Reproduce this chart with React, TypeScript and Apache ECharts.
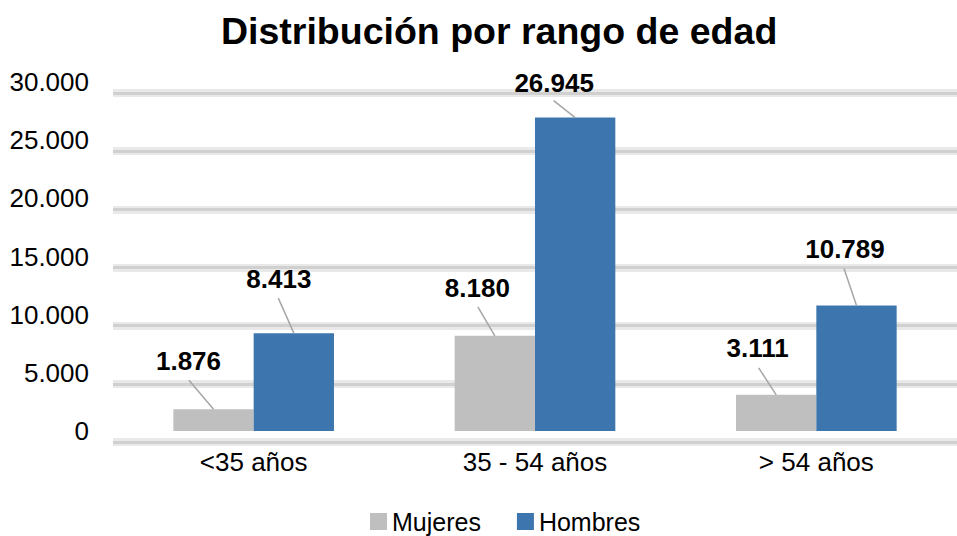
import React, { useEffect, useRef } from "react";
import * as echarts from "echarts";

const categories = ["<35 años", "35 - 54 años", "> 54 años"];
const mujeres = [1876, 8180, 3111];
const hombres = [8413, 26945, 10789];
const yMin = 0;
const yMax = 30000;
const yInterval = 5000;

// label placement (style): [label dx, label dy, line start dx, line start dy] relative to bar top centre
const mujeresLabelOffsets = [
  [-25, -48, -24.5, -29],
  [-17.5, -48, -17, -29],
  [-18.5, -47, -17.5, -27],
];
const hombresLabelOffsets = [
  [-15, -54, -15.5, -35],
  [-21, -35, -21.5, -17],
  [-11.5, -56, -12.5, -37],
];

const GAP = 0.429;
const FONT = '"Liberation Sans", Arial, Helvetica, sans-serif';

const fmt = (v: number) => String(Math.round(v)).replace(/\B(?=(\d{3})+(?!\d))/g, ".");

function makeLabelRenderer(offsets: number[][], side: number) {
  return (params: any, api: any) => {
    const cat = api.value(0);
    const v = api.value(1);
    const pt = api.coord([cat, v]);
    const band = api.size([1, 0])[0];
    const barW = (band * (1 - GAP)) / 2;
    const cx = pt[0] + (side * barW) / 2;
    const top = pt[1];
    const o = offsets[params.dataIndex];
    return {
      type: "group",
      children: [
        {
          type: "line",
          shape: { x1: cx + o[2], y1: top + o[3], x2: cx, y2: top },
          style: { stroke: "#a6a6a6", lineWidth: 1.5 },
        },
        {
          type: "text",
          x: cx + o[0],
          y: top + o[1],
          style: {
            text: fmt(v),
            font: `bold 26px ${FONT}`,
            fill: "#000",
            align: "center",
            textAlign: "center",
            verticalAlign: "middle",
            textVerticalAlign: "middle",
          },
        },
      ],
    };
  };
}

export default function App() {
  const ref = useRef<HTMLDivElement>(null);
  useEffect(() => {
    if (!ref.current) return;
    const chart = echarts.init(ref.current, undefined, { renderer: "svg" });
    const gridLeft = 113;
    const gridWidth = 851;
    const gridTop = 82;
    const gridHeight = 349;
    const hiddenCat = (gridIndex: number) => ({
      type: "category",
      gridIndex,
      data: categories,
      axisLine: { show: false },
      axisTick: { show: false },
      axisLabel: { show: false },
      splitLine: { show: false },
    });
    const gridY = (gridIndex: number, color: string, width: number, z: number) => ({
      type: "value",
      gridIndex,
      z,
      min: yMin,
      max: yMax,
      interval: yInterval,
      axisLine: { show: false },
      axisTick: { show: false },
      axisLabel: { show: false },
      splitLine: { show: true, lineStyle: { color, width } },
    });
    chart.setOption({
      animation: false,
      backgroundColor: "#fff",
      title: {
        text: "Distribución por rango de edad",
        left: 216,
        top: 7,
        textStyle: { fontFamily: FONT, fontWeight: "bold", fontSize: 37.5, color: "#000" },
      },
      legend: {
        data: ["Mujeres", "Hombres"],
        left: 365,
        top: 504,
        icon: "rect",
        itemWidth: 17,
        itemHeight: 17,
        itemGap: 36,
        textStyle: { fontFamily: FONT, fontSize: 25, color: "#000" },
      },
      grid: [
        { left: gridLeft, width: gridWidth, top: gridTop, height: gridHeight },
        { left: gridLeft, width: gridWidth, top: gridTop + 11, height: gridHeight },
        { left: gridLeft, width: gridWidth, top: gridTop + 11, height: gridHeight },
      ],
      xAxis: [
        {
          type: "category",
          gridIndex: 0,
          data: categories,
          axisLine: { show: false },
          axisTick: { show: false },
          axisLabel: { fontFamily: FONT, fontSize: 26, color: "#000", margin: 18 },
        },
        hiddenCat(1),
        hiddenCat(2),
      ],
      yAxis: [
        {
          type: "value",
          gridIndex: 0,
          min: yMin,
          max: yMax,
          interval: yInterval,
          axisLine: { show: false },
          axisTick: { show: false },
          splitLine: { show: false },
          axisLabel: {
            fontFamily: FONT,
            fontSize: 26,
            color: "#000",
            margin: 24,
            formatter: (v: number) => fmt(v),
          },
        },
        gridY(1, "#e9e9e9", 8, 0),
        gridY(2, "#d0d0d0", 3, 1),
      ],
      series: [
        {
          name: "Mujeres",
          type: "bar",
          xAxisIndex: 0,
          yAxisIndex: 0,
          data: mujeres,
          barGap: "0%",
          barCategoryGap: `${GAP * 100}%`,
          itemStyle: { color: "#bfbfbf" },
          z: 3,
        },
        {
          name: "Hombres",
          type: "bar",
          xAxisIndex: 0,
          yAxisIndex: 0,
          data: hombres,
          barGap: "0%",
          barCategoryGap: `${GAP * 100}%`,
          itemStyle: { color: "#3d76ae" },
          z: 3,
        },
        {
          name: "gridHolder1",
          type: "line",
          xAxisIndex: 1,
          yAxisIndex: 1,
          data: [],
          silent: true,
        },
        {
          name: "gridHolder2",
          type: "line",
          xAxisIndex: 2,
          yAxisIndex: 2,
          data: [],
          silent: true,
        },
        {
          name: "lblM",
          type: "custom",
          xAxisIndex: 0,
          yAxisIndex: 0,
          clip: false,
          z: 5,
          data: mujeres.map((v, i) => [i, v]),
          renderItem: makeLabelRenderer(mujeresLabelOffsets, -1),
        },
        {
          name: "lblH",
          type: "custom",
          xAxisIndex: 0,
          yAxisIndex: 0,
          clip: false,
          z: 5,
          data: hombres.map((v, i) => [i, v]),
          renderItem: makeLabelRenderer(hombresLabelOffsets, 1),
        },
      ],
    });
    return () => chart.dispose();
  }, []);
  return (
    <div
      ref={ref}
      style={{ position: "fixed", left: 0, top: 0, width: 957, height: 536 }}
    />
  );
}
